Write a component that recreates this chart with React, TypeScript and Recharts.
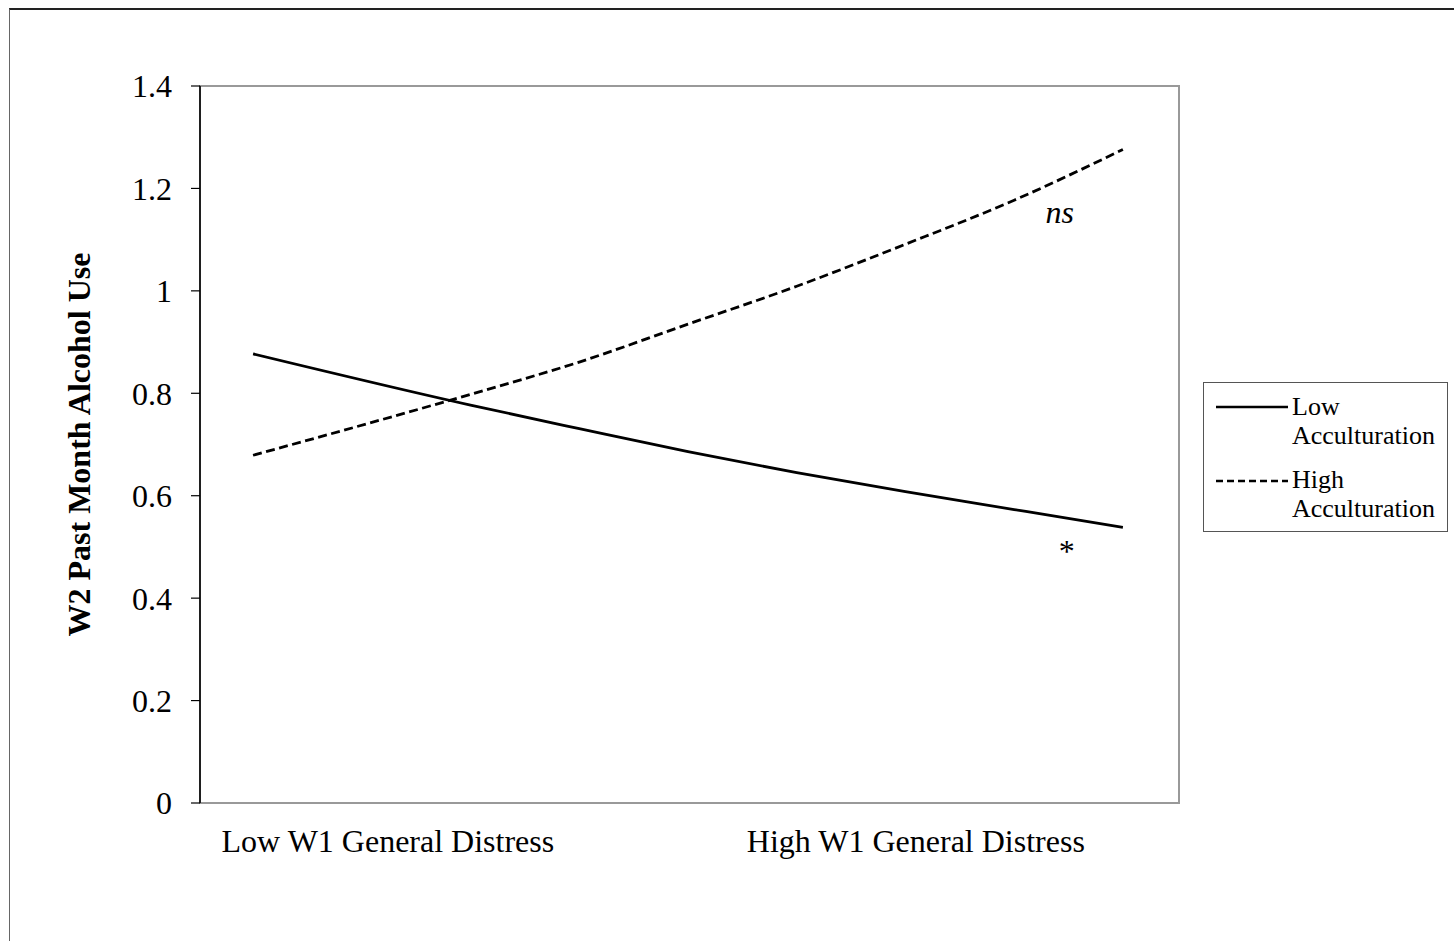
import { LineChart, Line, XAxis, YAxis, ReferenceArea, ReferenceDot, Legend } from "recharts";

// standardized W1 general distress (-1 = low, +1 = high)
const distressLevels = [-1, -0.5, -0.25, 0, 0.25, 0.5, 0.75, 1];
const lowAcculturation = [0.877, 0.777, 0.731, 0.686, 0.645, 0.608, 0.573, 0.538];
const highAcculturation = [0.679, 0.798, 0.861, 0.935, 1.009, 1.091, 1.177, 1.276];

const xTicks = [-0.69, 0.524];
const xTickLabels = ["Low W1 General Distress", "High W1 General Distress"];
const yTicks = [0, 0.2, 0.4, 0.6, 0.8, 1, 1.2, 1.4];

const seriesNames = ["Low Acculturation", "High Acculturation"];

const data = distressLevels.map((x, i) => ({
  x,
  low: lowAcculturation[i],
  high: highAcculturation[i],
}));

const FONT = "'Times New Roman', 'Liberation Serif', serif";
const DASH = "9 4.5";

function AcculturationLegend() {
  return (
    <div style={{ width: 245, height: 150, border: "1px solid #555", boxSizing: "border-box", background: "#fff" }}>
      <svg width={243} height={148} style={{ display: "block" }}>
        <line x1={12} x2={84} y1={24} y2={24} stroke="#000" strokeWidth={2.5} />
        <text x={88} y={32} fontSize={26} fontFamily={FONT}>Low</text>
        <text x={88} y={61} fontSize={26} fontFamily={FONT}>Acculturation</text>
        <line x1={12} x2={84} y1={98} y2={98} stroke="#000" strokeWidth={2.5} strokeDasharray="7 4" />
        <text x={88} y={105} fontSize={26} fontFamily={FONT}>High</text>
        <text x={88} y={134} fontSize={26} fontFamily={FONT}>Acculturation</text>
      </svg>
    </div>
  );
}

export default function App() {
  return (
    <div style={{ position: "absolute", left: 0, top: 0, width: 1454, height: 941, overflow: "hidden", background: "#fff" }}>
      <div style={{ position: "absolute", left: 9, top: 8, width: 1500, height: 1000, borderTop: "2px solid #222", borderLeft: "1px solid #666" }} />
      <div style={{ position: "absolute", left: 0, top: 0 }}>
        <LineChart width={1454} height={941} data={data} margin={{ top: 86, right: 275, bottom: 78, left: 0 }}>
          <ReferenceArea x1={-1.122} x2={1.129} y1={0} y2={1.4} fill="none" stroke="#999" strokeWidth={2} />
          <XAxis
            dataKey="x"
            type="number"
            domain={[-1.122, 1.129]}
            ticks={xTicks}
            tickFormatter={(v: number) => xTickLabels[xTicks.indexOf(v)] ?? ""}
            height={60}
            axisLine={false}
            tickLine={false}
            tickSize={0}
            tickMargin={26}
            tick={{ fill: "#000", fontSize: 32, fontFamily: FONT }}
            interval={0}
          />
          <YAxis
            type="number"
            domain={[0, 1.4]}
            ticks={yTicks}
            width={200}
            tickFormatter={(v: number) => String(+v.toFixed(1))}
            axisLine={{ stroke: "#000", strokeWidth: 1.6 }}
            tickLine={{ stroke: "#000", strokeWidth: 1.2 }}
            tickSize={9}
            tickMargin={19}
            tick={{ fill: "#000", fontSize: 32, fontFamily: FONT }}
            interval={0}
            label={{
              value: "W2 Past Month Alcohol Use",
              angle: -90,
              position: "insideLeft",
              dx: 74,
              style: { fontSize: 32, fontWeight: "bold", fontFamily: FONT, fill: "#000", textAnchor: "middle" },
            }}
          />
          <Legend
            layout="vertical"
            align="center"
            verticalAlign="middle"
            wrapperStyle={{ position: "absolute", left: 1203, top: 382, width: 245, height: 150 }}
            content={() => <AcculturationLegend />}
          />
          <Line
            type="monotone"
            dataKey="low"
            name={seriesNames[0]}
            stroke="#000"
            strokeWidth={2.8}
            dot={false}
            isAnimationActive={false}
          />
          <Line
            type="monotone"
            dataKey="high"
            name={seriesNames[1]}
            stroke="#000"
            strokeWidth={2.8}
            strokeDasharray={DASH}
            dot={false}
            isAnimationActive={false}
          />
          <ReferenceDot
            x={0.855}
            y={1.135}
            r={0}
            label={{ value: "ns", position: "center", dy: -10, style: { fontSize: 32, fontStyle: "italic", fontFamily: FONT, fill: "#000" } }}
          />
          <ReferenceDot
            x={0.871}
            y={0.493}
            r={0}
            label={{ value: "*", position: "center", style: { fontSize: 32, fontFamily: FONT, fill: "#000" } }}
          />
        </LineChart>
      </div>
    </div>
  );
}
